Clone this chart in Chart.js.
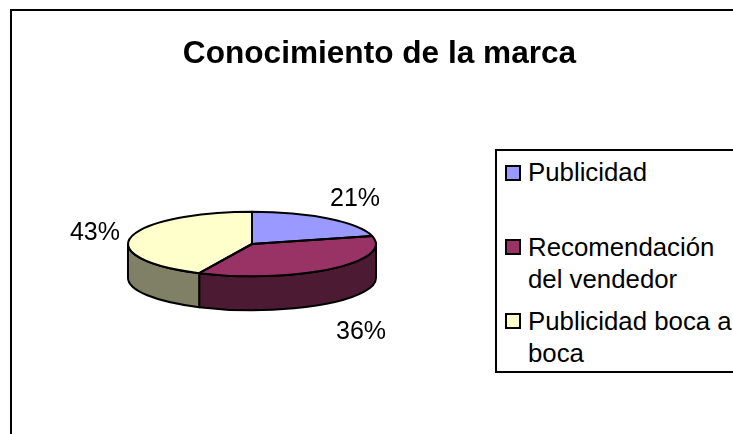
<!DOCTYPE html>
<html lang="es">
<head>
<meta charset="utf-8">
<title>Conocimiento de la marca</title>
<script src="https://cdn.jsdelivr.net/npm/chart.js@4/dist/chart.umd.min.js"></script>
<style>
    html, body { margin: 0; padding: 0; background: #fff; overflow: hidden; }
    #page { position: relative; width: 733px; height: 434px; overflow: hidden; font-family: "Liberation Sans", Arial, sans-serif; color: #000; }
    #frame { position: absolute; left: 10px; top: 9px; width: 740px; height: 440px; border: 2px solid #000; }
    #pieChart { position: absolute; left: 0; top: 0; }
    #legendBox { position: absolute; left: 495px; top: 149px; width: 260px; height: 220px; border: 2px solid #000; background: #fff; }
    .legend-row { position: absolute; left: 528px; width: 206px; font-size: 25.8px; line-height: 31.5px; }
    .legend-swatch { position: absolute; left: 505px; width: 12px; height: 12px; border: 2px solid #000; }
</style>
</head>
<body>
<div id="page">
    <div id="frame"></div>
    <canvas id="pieChart" width="733" height="434"></canvas>
    <div id="legendBox"></div>
</div>
<script>
// Datos del grafico
const categories = ['Publicidad', 'Recomendación del vendedor', 'Publicidad boca a boca'];
const shares = [21, 36, 43];
const sliceColors = ['#9999FF', '#993366', '#FFFFCC'];
const chartTitle = 'Conocimiento de la marca';

// Proyeccion de la tarta "3D"
const pieCenterX = 252;
const pieCenterY = 244;
const pieRadius = 124;
const flatten = 0.26;
const wallDepth = 34;

// Ajuste de cada etiqueta respecto al borde de su porcion
const labelNudges = [[27, -19], [30, 63], [-36, -4]];
const legendRowTops = [157, 232, 306];
const legendSwatchTops = [165, 239, 313];

function darken(hex) {
    const n = parseInt(hex.slice(1), 16);
    const half = v => Math.round(v / 2);
    return `rgb(${half(n >> 16 & 255)}, ${half(n >> 8 & 255)}, ${half(n & 255)})`;
}

function applyProjection(ctx, arc) {
    ctx.translate(pieCenterX, pieCenterY);
    ctx.scale(1, flatten);
    ctx.translate(-arc.x, -arc.y);
}

// Pared lateral: solo la parte de la porcion que mira hacia delante
function drawWall(ctx, arc, color) {
    const start = Math.max(arc.startAngle, 0);
    const end = Math.min(arc.endAngle, Math.PI);
    if (end <= start) return;
    const r = arc.outerRadius;
    ctx.beginPath();
    ctx.ellipse(pieCenterX, pieCenterY, r, r * flatten, 0, start, end);
    ctx.ellipse(pieCenterX, pieCenterY + wallDepth, r, r * flatten, 0, end, start, true);
    ctx.closePath();
    ctx.fillStyle = color;
    ctx.fill();
    ctx.stroke();
}

const pie3d = {
    id: 'pie3d',
    beforeDatasetsDraw(chart) {
        const ctx = chart.ctx;
        const arcs = chart.getDatasetMeta(0).data;
        ctx.save();
        ctx.strokeStyle = '#000';
        ctx.lineWidth = 2;
        ctx.lineJoin = 'round';
        arcs.forEach((arc, i) => drawWall(ctx, arc, darken(sliceColors[i])));
        ctx.restore();
        ctx.save();
        applyProjection(ctx, arcs[0]);
    },
    afterDatasetsDraw(chart) {
        const ctx = chart.ctx;
        const arcs = chart.getDatasetMeta(0).data;
        ctx.restore();

        // Contorno despues de restaurar, para que el grosor no se aplaste
        ctx.save();
        ctx.strokeStyle = '#000';
        ctx.lineWidth = 2;
        ctx.lineJoin = 'round';
        arcs.forEach(arc => {
            const r = arc.outerRadius;
            ctx.beginPath();
            ctx.moveTo(pieCenterX, pieCenterY);
            ctx.ellipse(pieCenterX, pieCenterY, r, r * flatten, 0, arc.startAngle, arc.endAngle);
            ctx.closePath();
            ctx.stroke();
        });

        // Etiquetas de porcentaje
        ctx.fillStyle = '#000';
        ctx.font = '25px "Liberation Sans", Arial, sans-serif';
        ctx.textAlign = 'center';
        ctx.textBaseline = 'middle';
        const total = shares.reduce((sum, v) => sum + v, 0);
        arcs.forEach((arc, i) => {
            const mid = (arc.startAngle + arc.endAngle) / 2;
            const x = pieCenterX + Math.cos(mid) * arc.outerRadius + labelNudges[i][0];
            const y = pieCenterY + Math.sin(mid) * arc.outerRadius * flatten + labelNudges[i][1];
            ctx.fillText(`${Math.round(shares[i] / total * 100)}%`, x, y);
        });
        ctx.restore();
    }
};

new Chart(document.getElementById('pieChart').getContext('2d'), {
    type: 'pie',
    data: {
        labels: categories,
        datasets: [{
            data: shares,
            backgroundColor: sliceColors,
            borderWidth: 0,
            hoverOffset: 0,
            radius: pieRadius,
            clip: false
        }]
    },
    options: {
        responsive: false,
        animation: false,
        events: [],
        // el titulo va centrado en 379px, no sobre la tarta
        layout: { padding: { left: 26 } },
        plugins: {
            legend: { display: false },
            tooltip: { enabled: false },
            title: {
                display: true,
                text: chartTitle,
                color: '#000',
                font: { family: '"Liberation Sans", Arial, sans-serif', size: 31.6, weight: 'bold' },
                padding: { top: 35, bottom: 10 }
            }
        }
    },
    plugins: [pie3d]
});

// Leyenda
const page = document.getElementById('page');
categories.forEach((name, i) => {
    const swatch = document.createElement('div');
    swatch.className = 'legend-swatch';
    swatch.style.top = legendSwatchTops[i] + 'px';
    swatch.style.background = sliceColors[i];
    page.appendChild(swatch);

    const row = document.createElement('div');
    row.className = 'legend-row';
    row.style.top = legendRowTops[i] + 'px';
    row.textContent = name;
    page.appendChild(row);
});
</script>
</body>
</html>
